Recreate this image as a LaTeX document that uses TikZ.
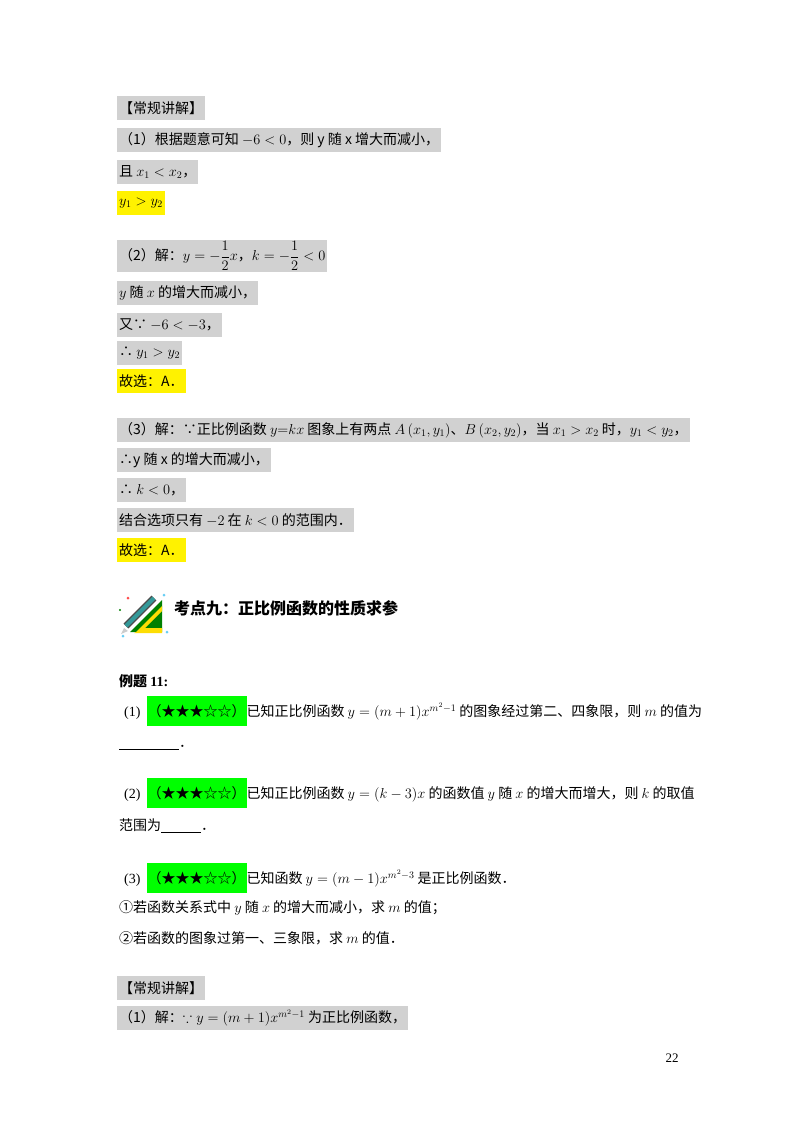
\documentclass[tikz,border=0pt]{standalone}
\usepackage{amsmath,amssymb}
\usepackage{fontspec}
\newfontfamily\cjk{Noto Sans CJK SC}
\newfontfamily\tms{Liberation Serif}
\begin{document}
\begin{tikzpicture}[x=1pt,y=-1pt,
  base/.style={anchor=west,inner xsep=2pt,inner ysep=0pt,minimum height=24pt,font=\cjk\fontsize{14}{17}\selectfont},
  g/.style={base,fill=black!18},
  yl/.style={base,fill=yellow},
  pl/.style={base},
  gr/.style={fill=green,inner xsep=1pt,inner ysep=0pt,minimum height=30pt}]
\useasboundingbox (0,0) rectangle (800,1132);
\fill[white] (0,0) rectangle (800,1132);
\node[g] (a1) at (117,108) {【常规讲解】};
\node[g] (a2) at (117,140) {（1）根据题意可知 $-6<0$，则 y 随 x 增大而减小，};
\node[g] (a3) at (117,172) {且 $x_1<x_2$，};
\node[yl] (a4) at (117,203) {$y_1>y_2$};
\node[g,minimum height=32pt] (b1) at (117,256) {（2）解：$y=-\dfrac12x$，$k=-\dfrac12<0$};
\node[g] (b2) at (117,293) {$y$ 随 $x$ 的增大而减小，};
\node[g] (b3) at (117,325) {又∵ $-6<-3$，};
\node[g] (b4) at (117,353) {∴ $y_1>y_2$};
\node[yl] (b5) at (117,381) {故选：A．};
\node[g] (c1) at (117,430) {（3）解：∵正比例函数 $y{=}kx$ 图象上有两点 $A\left(x_1,y_1\right)$、$B\left(x_2,y_2\right)$，当 $x_1>x_2$ 时，$y_1<y_2$，};
\node[g] (c2) at (117,460) {∴y 随 x 的增大而减小，};
\node[g] (c3) at (117,490) {∴ $k<0$，};
\node[g] (c4) at (117,520) {结合选项只有 $-2$ 在 $k<0$ 的范围内．};
\node[yl] (c5) at (117,550) {故选：A．};
% icon
\begin{scope}[shift={(118,590)}]
\fill[green!50!black] (12,42) -- (44,10) -- (44,42) -- cycle;
\fill[yellow!80!orange] (18,42) -- (44,16) -- (44,21) -- (27,38) -- (44,38) -- (44,43) -- (16,43) -- cycle;
\draw[line width=7pt,gray!60!black] (8,36) -- (36,8);
\draw[line width=4pt,teal!80] (8,36) -- (36,8);
\fill[gray!40] (6,38) -- (3,44) -- (10,41) -- cycle;
\fill[red!70] (10,8) circle (1.5);
\fill[cyan!60] (5,46) circle (1.5);
\fill[cyan!60] (46,5) circle (1.5);
\fill[green!50!black] (2,20) circle (1.2);
\fill[cyan!60] (49,42) circle (1.5);
\end{scope}
\node[pl,font=\cjk\bfseries\fontsize{16}{19}\selectfont] (h) at (172,608) {考点九：正比例函数的性质求参};
\node[pl,font=\cjk\bfseries\fontsize{14}{17}\selectfont] (e) at (117,681) {例题 {\tms\bfseries 11:}};
\node[pl] (p1) at (122,711) {{\tms (1)}\hspace{6pt}\tikz[baseline]\node[gr,anchor=base]{（★★★☆☆）};已知正比例函数 $y=(m+1)x^{m^2-1}$ 的图象经过第二、四象限，则 $m$ 的值为};
\node[pl] (p1b) at (117,748) {\underline{\hspace{60pt}}．};
\node[pl] (p2) at (122,793) {{\tms (2)}\hspace{6pt}\tikz[baseline]\node[gr,anchor=base]{（★★★☆☆）};已知正比例函数 $y=(k-3)x$ 的函数值 $y$ 随 $x$ 的增大而增大，则 $k$ 的取值};
\node[pl] (p2b) at (117,826) {范围为\underline{\hspace{40pt}}．};
\node[pl] (p3) at (122,878) {{\tms (3)}\hspace{6pt}\tikz[baseline]\node[gr,anchor=base]{（★★★☆☆）};已知函数 $y=(m-1)x^{m^2-3}$ 是正比例函数．};
\node[pl] (p3a) at (117,908) {①若函数关系式中 $y$ 随 $x$ 的增大而减小，求 $m$ 的值；};
\node[pl] (p3b) at (117,938) {②若函数的图象过第一、三象限，求 $m$ 的值．};
\node[g] (d1) at (117,988) {【常规讲解】};
\node[g] (d2) at (117,1018) {（1）解：$\because y=(m+1)x^{m^2-1}$ 为正比例函数，};
\node[font=\tms\fontsize{13}{15}\selectfont] (pg) at (672,1058) {22};
\end{tikzpicture}
\end{document}
